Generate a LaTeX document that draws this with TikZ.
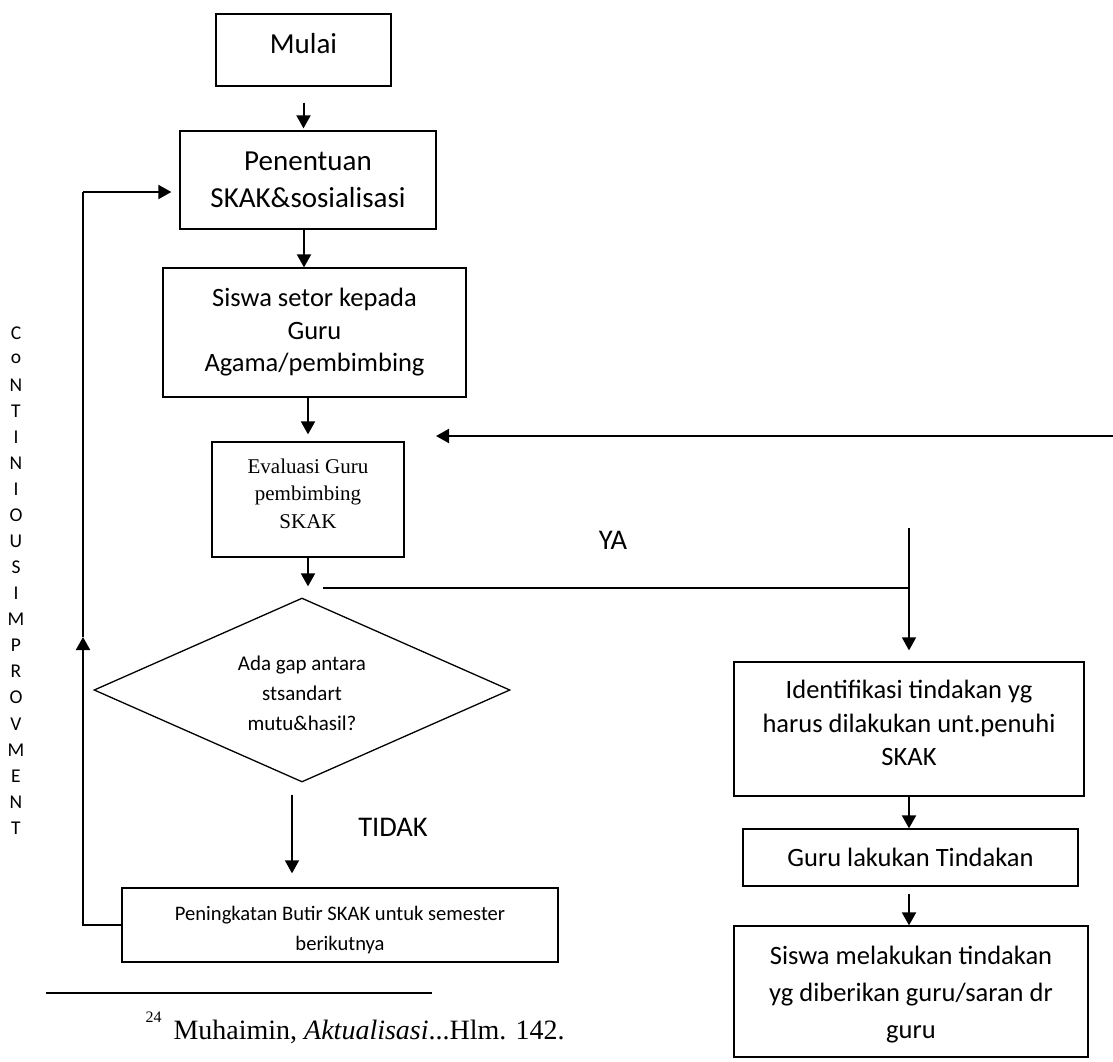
\documentclass[tikz,border=0pt]{standalone}
\usepackage{fontspec}
\setmainfont{Carlito}
\newfontfamily\timesf{Liberation Serif}
\usetikzlibrary{arrows.meta,shapes.geometric}
\tikzset{
  kotak/.style={draw,line width=1.3pt,align=center,inner sep=0pt},
  panah/.style={line width=2pt,-{Triangle[length=13pt,width=14pt]}},
  panahtipis/.style={line width=1.6pt,-{Triangle[length=13pt,width=14pt]}},
  garis/.style={line width=1.5pt},
}
\begin{document}
\begin{tikzpicture}[x=1pt,y=-1pt]
\useasboundingbox (0,0) rectangle (1113,1061);
\node[kotak,minimum width=175pt,minimum height=72pt,text depth=14pt,font=\fontsize{29}{37}\selectfont] at (303.5,50) (mulai) {Mulai};
\node[kotak,minimum width=256pt,minimum height=98pt,font=\fontsize{29}{37}\selectfont] at (308,180) (penentuan) {Penentuan\\SKAK\&sosialisasi};
\node[kotak,minimum width=303pt,minimum height=129pt,font=\fontsize{26.5}{32.5}\selectfont] at (314.5,332.5) (siswa) {Siswa setor kepada\\Guru\\Agama/pembimbing};
\node[kotak,minimum width=192pt,minimum height=115pt,text depth=12pt,font=\timesf\fontsize{21}{27.7}\selectfont] at (308,499.5) (evaluasi) {Evaluasi Guru\\pembimbing\\SKAK};
\node[kotak,diamond,aspect=2.26,minimum width=416pt,minimum height=184pt,font=\fontsize{21}{30}\selectfont] at (302,690) (keputusan) {\rule{0pt}{21pt}Ada gap antara\\stsandart\\mutu\&hasil?};
\node[kotak,minimum width=436pt,minimum height=74pt,font=\fontsize{20.6}{30}\selectfont] at (340,925) (peningkatan) {\rule{0pt}{25pt}Peningkatan Butir SKAK untuk semester\\berikutnya};
\node[kotak,minimum width=350pt,minimum height=134pt,text depth=12pt,font=\fontsize{26.5}{33.5}\selectfont] at (909,729) (identifikasi) {Identifikasi tindakan yg\\harus dilakukan unt.penuhi\\SKAK};
\node[kotak,minimum width=335pt,minimum height=57pt,font=\fontsize{26.5}{33.5}\selectfont] at (910.5,857.5) (gurulakukan) {Guru lakukan Tindakan};
\node[kotak,minimum width=354pt,minimum height=131pt,font=\fontsize{26.5}{37}\selectfont] at (911,991.5) (siswamelakukan) {\rule{0pt}{24pt}Siswa melakukan tindakan\\yg diberikan guru/saran dr\\guru};
\node[font=\fontsize{28.5}{30}\selectfont] at (613,540) (ya) {YA};
\node[font=\fontsize{28.5}{30}\selectfont] at (393,827) (tidak) {TIDAK};
\foreach \h [count=\i] in {C,o,N,T,I,N,I,O,U,S,I,M,P,R,O,V,M,E,N,T}
  \node[font=\fontsize{19.5}{20}\selectfont] at (16,{333+26.05*(\i-1)}) (huruf\i) {\h};
\coordinate (balik) at (1113,436);
\coordinate (balikujung) at (436,436);
\coordinate (yamulai) at (323,588);
\coordinate (yaatas) at (909,528);
\coordinate (loopbawah) at (83,925);
\coordinate (looptengah) at (83,637);
\coordinate (loopatas) at (83,192);
\draw[panah,shorten <=16pt,shorten >=2pt] (mulai.south) -- (mulai.south |- penentuan.north);
\draw[panah] ([xshift=-4pt]penentuan.south) -- ([xshift=-4pt]penentuan.south |- siswa.north);
\draw[panah,shorten >=7pt] (evaluasi.north |- siswa.south) -- (evaluasi.north);
\draw[panah,shorten >=11pt] (evaluasi.south) -- (evaluasi.south |- keputusan.north);
\draw[panah] (balik) -- (balikujung);
\draw[garis] (yamulai) -- (yamulai -| identifikasi.north);
\draw[panahtipis,shorten >=11pt] (yaatas) -- (identifikasi.north);
\draw[panahtipis,shorten <=12pt,shorten >=14pt] ([xshift=-10pt]keputusan.south) -- ([xshift=-10pt]keputusan.south |- peningkatan.north);
\draw[panah] (peningkatan.west) -- (loopbawah) -- (looptengah);
\draw[line width=2pt] (looptengah) -- (loopatas);
\draw[panah,shorten >=8pt] (loopatas) -- (loopatas -| penentuan.west);
\draw[panah] (identifikasi.south) -- (identifikasi.south |- gurulakukan.north);
\draw[panah,shorten <=7pt] (identifikasi.south |- gurulakukan.south) -- (identifikasi.south |- siswamelakukan.north);
\draw[line width=1.3pt] (46,993) -- (432,993);
\node[anchor=west,font=\timesf\fontsize{16}{18}\selectfont] at (142,1017) (nomor) {24};
\node[anchor=west,font=\timesf\fontsize{28}{30}\selectfont] at (170,1032) (catatan) {Muhaimin, \textit{Aktualisasi}...Hlm. 142.};
\end{tikzpicture}
\end{document}
